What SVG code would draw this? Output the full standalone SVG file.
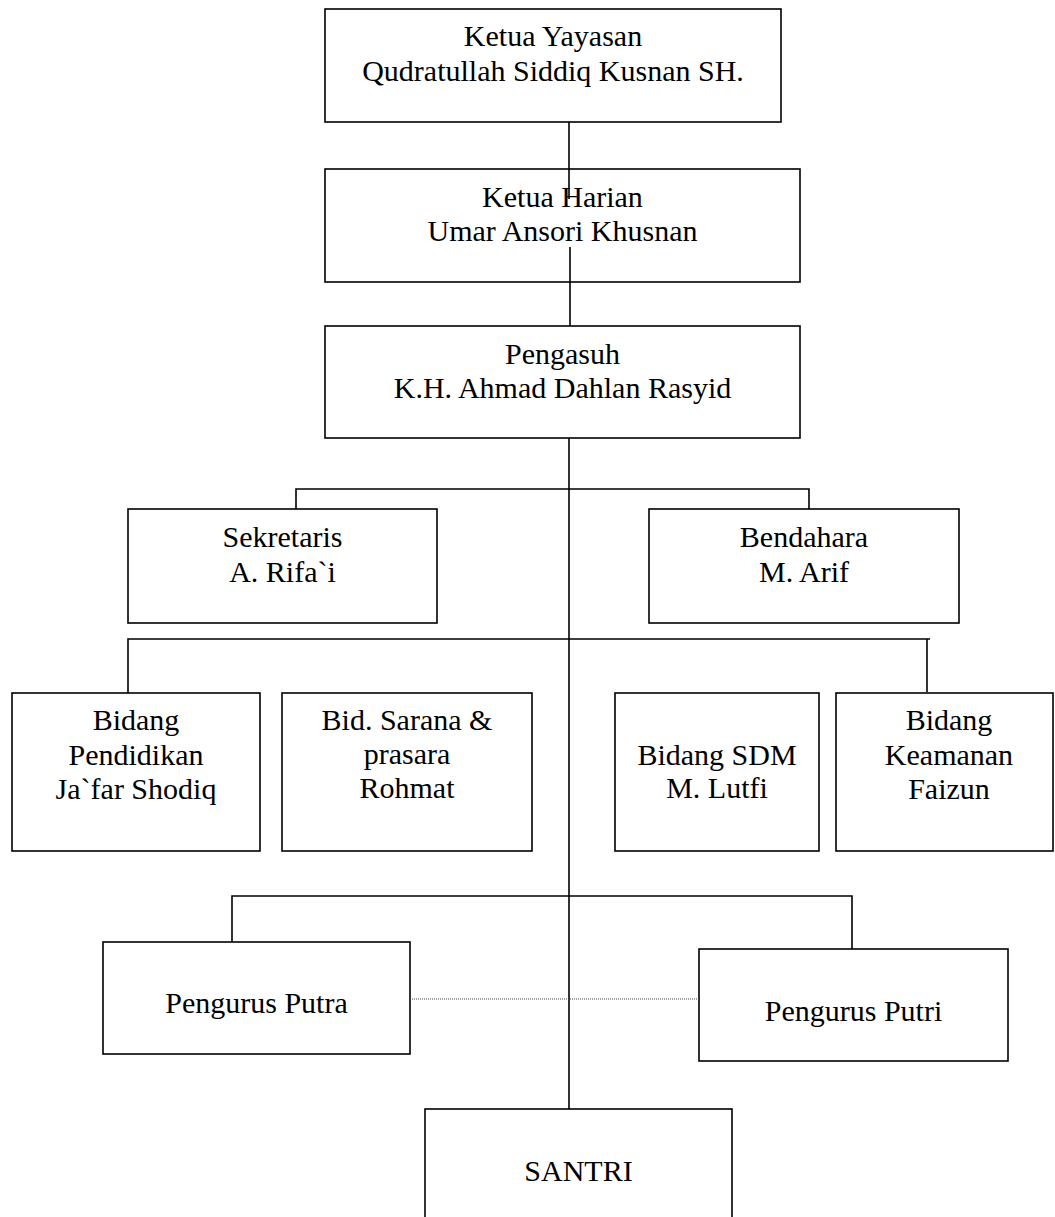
<svg xmlns="http://www.w3.org/2000/svg" width="1055" height="1217" viewBox="0 0 1055 1217">
<style>
.box{fill:#fff;stroke:#000;stroke-width:1.6}
.t{font-family:"Liberation Serif","Times New Roman",serif;font-size:30px;fill:#000;text-anchor:middle}
.c{fill:none;stroke:#000;stroke-width:1.6}
.d{fill:none;stroke:#444;stroke-width:1;stroke-dasharray:1 1}
</style>
<rect width="1055" height="1217" fill="#fff"/>
<g id="n-ketua-yayasan"><rect class="box" x="325" y="9" width="456" height="113"/><text class="t" x="553" y="46">Ketua Yayasan</text><text class="t" x="553" y="81">Qudratullah Siddiq Kusnan SH.</text></g>
<g id="n-ketua-harian"><rect class="box" x="325" y="169" width="475" height="113"/><text class="t" x="562.5" y="207">Ketua Harian</text><text class="t" x="562.5" y="241">Umar Ansori Khusnan</text></g>
<g id="n-pengasuh"><rect class="box" x="325" y="326" width="475" height="112"/><text class="t" x="562.5" y="364">Pengasuh</text><text class="t" x="562.5" y="398">K.H. Ahmad Dahlan Rasyid</text></g>
<g id="n-sekretaris"><rect class="box" x="128" y="509" width="309" height="114"/><text class="t" x="282.5" y="547">Sekretaris</text><text class="t" x="282.5" y="582">A. Rifa`i</text></g>
<g id="n-bendahara"><rect class="box" x="649" y="509" width="310" height="114"/><text class="t" x="804" y="547">Bendahara</text><text class="t" x="804" y="582">M. Arif</text></g>
<g id="n-pendidikan"><rect class="box" x="12" y="693" width="248" height="158"/><text class="t" x="136" y="730">Bidang</text><text class="t" x="136" y="765">Pendidikan</text><text class="t" x="136" y="799">Ja`far Shodiq</text></g>
<g id="n-sarana"><rect class="box" x="282" y="693" width="250" height="158"/><text class="t" x="407" y="730">Bid. Sarana &amp;</text><text class="t" x="407" y="764">prasara</text><text class="t" x="407" y="798">Rohmat</text></g>
<g id="n-sdm"><rect class="box" x="615" y="693" width="204" height="158"/><text class="t" x="717" y="765">Bidang SDM</text><text class="t" x="717" y="798">M. Lutfi</text></g>
<g id="n-keamanan"><rect class="box" x="836" y="693" width="217" height="158"/><text class="t" x="949" y="730">Bidang</text><text class="t" x="949" y="765">Keamanan</text><text class="t" x="949" y="799">Faizun</text></g>
<g id="n-putra"><rect class="box" x="103" y="942" width="307" height="112"/><text class="t" x="256.5" y="1013">Pengurus Putra</text></g>
<g id="n-putri"><rect class="box" x="699" y="949" width="309" height="112"/><text class="t" x="853.5" y="1021">Pengurus Putri</text></g>
<g id="n-santri"><rect class="box" x="425" y="1109" width="307" height="130"/><text class="t" x="578.5" y="1181">SANTRI</text></g>
<g id="connectors">
<path class="c" d="M569 122 V199"/>
<path class="c" d="M570 247 V326"/>
<path class="c" d="M569 438 V1109"/>
<path class="c" d="M296 509 V489 H809 V509"/>
<path class="c" d="M128 693 V639 H930"/>
<path class="c" d="M927 639 V692"/>
<path class="c" d="M232 942 V896 H852 V949"/>
<path class="d" d="M410 999 H699"/>
</g>
</svg>
